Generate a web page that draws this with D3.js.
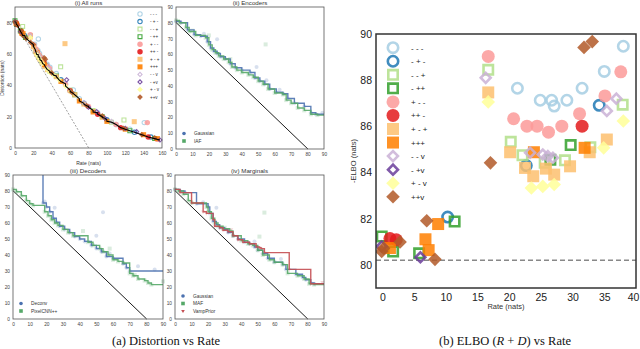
<!DOCTYPE html>
<html>
<head>
<meta charset="utf-8">
<script src="https://cdn.jsdelivr.net/npm/d3@7"></script>
<style>
  body { margin: 0; background: #fff; }
  svg { display: block; }
</style>
</head>
<body>
<svg id="fig" width="640" height="349"></svg>
<script>

// ---- run settings (legend of (i) and (b)) ----
var runLabels = ["- - -", "- + -", "- - +", "- ++", "+ - -", "++ -", "+ - +", "+++", "- - v", "- +v", "+ - v", "++v"];
var runColors = ["#a6cee3", "#1f78b4", "#b2df8a", "#33a02c", "#fb9a99", "#e31a1c", "#fdbf6f", "#ff7f00", "#cab2d6", "#6a3d9a", "#ffff99", "#b15928"];
var runShapes = ["circle", "circle", "square", "square", "circle", "circle", "square", "square", "diamond", "diamond", "diamond", "diamond"];
var runFilled = [false, false, false, false, true, true, true, true, false, false, true, true];

// ---- (b) ELBO vs rate : [rate, -elbo] ----
var elbo_mmm = [[21.3,87.65],[24.9,87.13],[26.7,87.13],[27.1,86.88],[29.1,87.13],[31.5,87.65],[35.0,88.38],[38.0,89.47]];
var elbo_mpm = [[10.3,82.07],[22.7,84.3],[34.2,86.91]];
var elbo_mmp = [[16.7,88.45],[20.25,85.33],[22.1,84.75],[25.6,84.42],[28.8,84.53],[32.8,85.1],[37.9,86.94]];
var elbo_mpp = [[-0.1,81.23],[1.7,80.58],[5.8,80.5],[11.4,81.88],[26.5,84.55],[29.7,85.19]];
var elbo_pmm = [[16.7,89.03],[20.7,86.33],[22.8,86.01],[24.4,86.01],[26.2,85.75],[28.3,86.01],[31.1,86.55],[35.1,87.32],[37.6,88.36]];
var elbo_ppm = [[1.2,81.14],[2.2,81.09],[31.5,86.01]];
var elbo_pmp = [[16.7,87.47],[20.15,84.88],[22.5,84.2],[23.8,83.84],[25.8,84.17],[27.1,83.91],[29.6,84.27],[32.7,84.88],[35.4,85.43]];
var elbo_ppp = [[1.2,80.73],[6.8,81.11],[7.3,80.64],[8.8,81.77],[23.9,84.88],[31.9,85.07]];
var elbo_mmv = [[16.3,88.1],[23.3,84.86],[25.3,84.78],[26.1,84.71],[26.9,84.64],[35.4,86.67],[36.9,87.2]];
var elbo_mpv = [[-0.1,80.8],[6.0,80.33]];
var elbo_pmv = [[16.7,87.06],[23.5,83.33],[25.3,83.4],[27.1,83.48],[34.9,85.07],[38.0,86.23]];
var elbo_ppv = [[31.8,89.42],[33.1,89.67],[17.05,84.42],[7.0,81.91],[8.3,80.24],[2.8,80.99],[-0.1,80.58],[0.2,80.72]];
var elboRuns = [elbo_mmm, elbo_mpm, elbo_mmp, elbo_mpp, elbo_pmm, elbo_ppm, elbo_pmp, elbo_ppp, elbo_mmv, elbo_mpv, elbo_pmv, elbo_ppv];

// ---- (i) all runs : [rate, distortion] ----
var dist_mmm = [[21.3,66.3],[24.9,62.2],[25.4,69.6],[26.7,60.4],[29.1,58.0],[31.5,56.2],[35.0,53.4],[38.0,51.5],[45,47.5],[55,41],[63.5,37.1],[70,31.5],[90,22.5],[110,15],[125,12],[140.7,16.2]];
var dist_mpm = [[10.3,71.8],[22.7,61.6],[34.2,52.7],[50,43.5],[75,28.5],[100,18],[130,10],[148,7]];
var dist_mmp = [[8.3,77.6],[16.7,71.8],[20.25,65.1],[22.1,62.7],[25.6,58.8],[28.8,55.7],[32.8,52.3],[37.9,49.0],[49.7,51.8],[60,37],[85,24],[105,16.5],[118.6,17.9]];
var dist_mpp = [[0,81.2],[1.7,78.9],[5.8,74.7],[11.4,70.5],[26.5,58],[29.7,55.5],[45,46],[65,34],[95,20],[125,11],[152,6]];
var dist_pmm = [[16.7,72.3],[20.7,65.6],[22.8,63.2],[24.4,61.6],[26.2,59.5],[28.3,57.7],[31.1,55.4],[35.1,52.2],[37.6,50.8],[55,40.5],[80,26.5],[110,15],[144,16.2],[155,5.5]];
var dist_ppm = [[1.2,79.9],[2.2,78.9],[31.5,54.5],[60,36.5],[90,21.5],[115,13],[145,7]];
var dist_pmp = [[16.7,70.8],[20.15,64.7],[22.5,61.7],[23.8,60.0],[25.8,58.4],[27.1,56.8],[29.6,54.7],[32.7,52.2],[35.4,50.0],[45,45.5],[54.4,66.6],[65,34],[75,28],[95,19.5],[129.8,16.8]];
var dist_ppp = [[1.2,79.5],[6.8,74.3],[7.3,73.3],[8.8,73.0],[23.9,61.0],[31.9,53.2],[50,42.5],[70,30],[85,23],[100,17],[120,12],[140,8.5],[155,6]];
var dist_mmv = [[16.3,71.8],[23.3,61.6],[25.3,59.5],[26.1,58.6],[26.9,57.7],[35.4,51.3],[36.9,50.3],[75,29],[105,17]];
var dist_mpv = [[0,80.7],[6.0,74.3],[56.2,43.5],[80,26],[88.9,23.2],[97.9,19.0],[120,12.5],[132.4,10.4],[157.8,5.1]];
var dist_pmv = [[16.7,70.4],[23.5,59.8],[25.3,58.1],[27.1,56.4],[30,54],[34.9,50.2],[38.0,48.2],[42,46.5],[48,43.5],[55,39.5],[60,36]];
var dist_ppv = [[0,80.6],[2.8,78.2],[7.0,74.9],[8.3,71.9],[12,70],[17.05,67.4],[20,66],[31.8,57.6],[33.1,56.6],[40,48],[62,35.5],[78,27],[95,20.5],[118,12.5],[138,8.5],[152,6.5]];
var distRuns = [dist_mmm, dist_mpm, dist_mmp, dist_mpp, dist_pmm, dist_ppm, dist_pmp, dist_ppp, dist_mmv, dist_mpv, dist_pmv, dist_ppv];

// ---- (ii) encoders ----
var enc_gaussian = [[0,81],[3,80],[7,75.5],[11,72.5],[15,71.5],[17,73],[19,68],[21,64],[23,62],[25,60.5],[25,69.5],[27,58.5],[30,57],[33,54],[36,51.5],[40,50],[45,48.5],[48,45],[49,52],[51,43],[54,41],[55,43.5],[57,38],[61,36],[63,37.5],[65,35],[68,32],[72,29],[78,27],[82,23],[85,22],[89,23]];
var enc_iaf = [[0,81.5],[2,80],[6,77],[8,74.5],[10,75],[12,72],[18,70.5],[20,66],[20,72],[22,63],[24,61],[26,59],[29,57],[32,55],[33,57],[34,52],[37,50],[40,48.5],[44,47],[47,45.5],[50,43],[53,41],[54.5,66.3],[56,38],[60,35.5],[65,34.5],[67,31],[70,29],[74,26],[78,24.5],[82,22],[86,21.5]];

// ---- (iii) decoders ----
var dec_deconv = [[18,72.5],[19,73.5],[20,70],[22,67],[24,63],[25,69.5],[26,60.5],[28,58],[31,56],[34,54],[37,51.5],[40,50],[43,48.5],[47,46],[50,44],[50,52],[53,42],[54,66.7],[56,39],[58,41],[60,38],[66,34.5],[68,32],[70,30],[75,33],[85,31]];
var dec_pixelcnn = [[0,81],[2,79.5],[5,77],[8,74],[10,72],[12,71],[19,67],[21,64.5],[23,62],[25,60],[27,58.5],[30,56],[33,54],[36,52],[42,55],[45,48],[48,46],[52,44],[54,42],[57,40],[58,44],[60,37],[63,36],[66,35],[70,28.5],[72,27],[73,27.5],[75,25],[79,24],[81,22.5],[83,21.5],[90,23.5]];

// ---- (iv) marginals ----
var mar_gaussian = [[0,81],[3,80],[6,79],[13,72],[17,73],[20,70],[21,66],[23,61],[25,59],[25,69.5],[27,57],[30,56],[32,54],[35,52],[38,50],[42,48],[45,47],[48,45],[48,48.5],[50,43],[53,41],[56,38],[60,35.5],[64,37.5],[65,34],[67,31],[73,28],[77,26],[79,24.5],[82,22.5],[84,22]];
var mar_maf = [[0,81],[2,80],[5,78],[8,74],[10,72.5],[19,70],[20,67],[22,63],[24,60],[26,58],[29,56.5],[30,57],[33,55],[35,52],[40,49],[44,47],[47,46],[50,43],[51,51.5],[53,40],[54,66.5],[57,37],[60,35.5],[65,34],[68,28.5],[74,27],[78,25],[81,22],[84,21.5]];
var mar_vamp = [[0,81],[3,79],[10,72.5],[17,67],[19,66],[23,62],[24,58],[27,57],[29,55.5],[32,54.5],[34,56],[35,52],[38,49.5],[41,48],[45,47],[49,45],[51,44.5],[52,44],[54,41.5],[69,31],[82,22],[89,23]];

var entropy = 80.2;   // bound line D = H - R and dashed ELBO level

var leftColors = { blue: "#4c72b0", green: "#55a868", red: "#c44e52" };

var svg = d3.select("#fig");
var sans = "'Liberation Sans', Arial, sans-serif";

// draw one marker
function marker(g, x, y, shape, color, filled, outer, sw, op) {
  var s = filled ? outer : outer - sw;
  var path, rot = 0;
  if (shape === "circle") path = d3.symbol(d3.symbolCircle, Math.PI * s * s / 4)();
  else if (shape === "square") path = d3.symbol(d3.symbolSquare, s * s)();
  else if (shape === "diamond") { path = d3.symbol(d3.symbolSquare, s * s)(); rot = 45; }
  else if (shape === "tri") { path = d3.symbol(d3.symbolTriangle, s * s * 0.45)(); rot = 180; }
  g.append("path")
    .attr("d", path)
    .attr("transform", "translate(" + x + "," + y + ") rotate(" + rot + ")")
    .attr("fill", filled ? color : "none")
    .attr("stroke", filled ? "none" : color)
    .attr("stroke-width", sw)
    .attr("opacity", op);
}

var outerSize = { circle: 13, square: 12, diamond: 9.6 };

// pareto frontier : lowest distortion seen so far, going up in rate
function frontier(pts) {
  var s = pts.slice().sort(function (a, b) { return a[0] - b[0]; });
  var out = [], best = Infinity;
  s.forEach(function (p) { if (p[1] < best) { best = p[1]; out.push(p); } });
  return out;
}

// small panel frame + ticks
function smallPanel(box, xmax, xstep, ystep, title) {
  var x = d3.scaleLinear().domain([0, xmax]).range([box.l, box.r]);
  var y = d3.scaleLinear().domain([0, 90]).range([box.b, box.t]);
  var g = svg.append("g");
  g.append("text").attr("x", (box.l + box.r) / 2).attr("y", box.t - 2)
    .attr("text-anchor", "middle").attr("font-family", sans).attr("font-size", 6.2)
    .attr("fill", "#333").text(title);
  var xa = g.append("g").attr("transform", "translate(0," + box.b + ")")
    .call(d3.axisBottom(x).tickValues(d3.range(0, xmax + 1, xstep)).tickSize(0).tickPadding(4));
  var ya = g.append("g").attr("transform", "translate(" + box.l + ",0)")
    .call(d3.axisLeft(y).tickValues(d3.range(0, 91, ystep)).tickSize(0).tickPadding(3));
  [xa, ya].forEach(function (a) {
    a.select(".domain").remove();
    a.selectAll("text").attr("font-family", sans).attr("font-size", 4.8).attr("fill", "#444");
  });
  var plot = g.append("g");
  g.append("rect").attr("x", box.l).attr("y", box.t).attr("width", box.r - box.l).attr("height", box.b - box.t)
    .attr("fill", "none").attr("stroke", "#555").attr("stroke-width", 0.8);
  return { x: x, y: y, g: plot, top: g };
}

// ---------- (i) all runs ----------
var p1 = smallPanel({ l: 15, r: 162, t: 7, b: 148 }, 160, 20, 20, "(i) All runs");
p1.g.append("line")
  .attr("x1", p1.x(0)).attr("y1", p1.y(entropy)).attr("x2", p1.x(entropy)).attr("y2", p1.y(0))
  .attr("stroke", "#888").attr("stroke-width", 0.8).attr("stroke-dasharray", "2,1.5");
distRuns.forEach(function (run, i) {
  run.forEach(function (p) {
    marker(p1.g, p1.x(p[0]), p1.y(p[1]), runShapes[i], runColors[i], runFilled[i],
      outerSize[runShapes[i]] * 0.42, 1.1, 0.85);
  });
});
var allPts = [];
distRuns.forEach(function (run) { allPts = allPts.concat(run); });
p1.g.append("path")
  .attr("d", d3.line().x(function (d) { return p1.x(d[0]); }).y(function (d) { return p1.y(d[1]); })(frontier(allPts)))
  .attr("fill", "none").attr("stroke", "#000").attr("stroke-width", 1.1);
p1.top.append("text").attr("x", (15 + 162) / 2).attr("y", 165).attr("text-anchor", "middle")
  .attr("font-family", sans).attr("font-size", 5).attr("fill", "#333").text("Rate (nats)");
p1.top.append("text").attr("transform", "translate(4,78) rotate(-90)").attr("text-anchor", "middle")
  .attr("font-family", sans).attr("font-size", 5).attr("fill", "#333").text("Distortion (nats)");
runLabels.forEach(function (lab, i) {
  var yy = 14 + i * 7.55;
  marker(p1.top, 140, yy, runShapes[i], runColors[i], runFilled[i], outerSize[runShapes[i]] * 0.42, 1.1, 0.9);
  p1.top.append("text").attr("x", 150).attr("y", yy + 1.6).attr("font-family", sans).attr("font-size", 4.6)
    .attr("fill", "#333").text(lab);
});

// ---------- (ii)-(iv) ----------
function stepPanel(box, title, series) {
  var p = smallPanel(box, 90, 10, 10, title);
  p.g.append("line")
    .attr("x1", p.x(0)).attr("y1", p.y(entropy)).attr("x2", p.x(entropy)).attr("y2", p.y(0))
    .attr("stroke", "#000").attr("stroke-width", 0.9);
  var line = d3.line().curve(d3.curveStepAfter)
    .x(function (d) { return p.x(d[0]); }).y(function (d) { return p.y(d[1]); });
  series.forEach(function (s) {
    s.data.forEach(function (d) {
      marker(p.g, p.x(d[0]), p.y(d[1]), s.shape, s.color, true, 4, 0, 0.22);
    });
  });
  series.forEach(function (s) {
    var f = frontier(s.data);
    var pts = f.slice();
    if (pts[0][0] > 0) pts.unshift([pts[0][0], 90]);
    pts.push([90, pts[pts.length - 1][1]]);
    p.g.append("path").attr("d", line(pts))
      .attr("fill", "none").attr("stroke", s.color).attr("stroke-width", 1.4).attr("opacity", 0.9);
  });
  series.forEach(function (s, i) {
    var yy = box.b - 8 - (series.length - 1 - i) * 7.5;
    marker(p.top, box.l + 8, yy, s.shape, s.color, true, 3.6, 0, 1);
    p.top.append("text").attr("x", box.l + 18).attr("y", yy + 1.7).attr("font-family", sans)
      .attr("font-size", 4.8).attr("fill", "#333").text(s.name);
  });
}

stepPanel({ l: 176, r: 324, t: 7, b: 149 }, "(ii) Encoders", [
  { name: "Gaussian", data: enc_gaussian, color: leftColors.blue, shape: "circle" },
  { name: "IAF", data: enc_iaf, color: leftColors.green, shape: "square" }
]);
stepPanel({ l: 13, r: 163, t: 175, b: 319 }, "(iii) Decoders", [
  { name: "Deconv", data: dec_deconv, color: leftColors.blue, shape: "circle" },
  { name: "PixelCNN++", data: dec_pixelcnn, color: leftColors.green, shape: "square" }
]);
stepPanel({ l: 175, r: 324, t: 175, b: 319 }, "(iv) Marginals", [
  { name: "Gaussian", data: mar_gaussian, color: leftColors.blue, shape: "circle" },
  { name: "MAF", data: mar_maf, color: leftColors.green, shape: "square" },
  { name: "VampPrior", data: mar_vamp, color: leftColors.red, shape: "tri" }
]);

// ---------- (b) ELBO vs rate ----------
var bx = d3.scaleLinear().domain([-1, 40]).range([376, 636]);
var by = d3.scaleLinear().domain([79, 90]).range([288, 34]);
var gb = svg.append("g");
svg.append("clipPath").attr("id", "clipb").append("rect")
  .attr("x", 376).attr("y", 34).attr("width", 260).attr("height", 254);
var bxa = gb.append("g").attr("transform", "translate(0,288)")
  .call(d3.axisBottom(bx).tickValues(d3.range(0, 41, 5)).tickSize(0).tickPadding(6));
var bya = gb.append("g").attr("transform", "translate(376,0)")
  .call(d3.axisLeft(by).tickValues(d3.range(80, 91, 2)).tickSize(0).tickPadding(4));
[bxa, bya].forEach(function (a) {
  a.select(".domain").remove();
  a.selectAll("text").attr("font-family", sans).attr("font-size", 10.5).attr("fill", "#222");
});
// keep the last rate label inside the window
bxa.selectAll(".tick").filter(function (d) { return d === 40; }).select("text").attr("dx", -3);
gb.append("text").attr("x", 506).attr("y", 309).attr("text-anchor", "middle")
  .attr("font-family", sans).attr("font-size", 7.5).attr("fill", "#333").text("Rate (nats)");
gb.append("text").attr("transform", "translate(356,161) rotate(-90)").attr("text-anchor", "middle")
  .attr("font-family", sans).attr("font-size", 7.5).attr("fill", "#333").text("-ELBO (nats)");

var plotB = gb.append("g").attr("clip-path", "url(#clipb)");
plotB.append("line").attr("x1", 376).attr("x2", 636).attr("y1", by(entropy)).attr("y2", by(entropy))
  .attr("stroke", "#888").attr("stroke-width", 1.4).attr("stroke-dasharray", "5,3");
elboRuns.forEach(function (run, i) {
  run.forEach(function (p) {
    marker(plotB, bx(p[0]), by(p[1]), runShapes[i], runColors[i], runFilled[i], outerSize[runShapes[i]], 2.6, 0.85);
  });
});
runLabels.forEach(function (lab, i) {
  var yy = 47.7 + i * 13.55;
  marker(gb, 393, yy, runShapes[i], runColors[i], runFilled[i], outerSize[runShapes[i]], 2.6, 0.85);
  gb.append("text").attr("x", 411).attr("y", yy + 3).attr("font-family", sans).attr("font-size", 8)
    .attr("fill", "#222").text(lab);
});
gb.append("rect").attr("x", 376).attr("y", 34).attr("width", 260).attr("height", 254)
  .attr("fill", "none").attr("stroke", "#333").attr("stroke-width", 1.5);

// ---------- captions ----------
var serif = "'Liberation Serif', 'Times New Roman', serif";
svg.append("text").attr("x", 166).attr("y", 345).attr("text-anchor", "middle")
  .attr("font-family", serif).attr("font-size", 12.5).attr("fill", "#111").text("(a) Distortion vs Rate");
var cap = svg.append("text").attr("x", 505).attr("y", 345).attr("text-anchor", "middle")
  .attr("font-family", serif).attr("font-size", 12.5).attr("fill", "#111");
cap.append("tspan").text("(b) ELBO (");
cap.append("tspan").attr("font-style", "italic").text("R");
cap.append("tspan").text(" + ");
cap.append("tspan").attr("font-style", "italic").text("D");
cap.append("tspan").text(") vs Rate");

</script>
</body>
</html>
